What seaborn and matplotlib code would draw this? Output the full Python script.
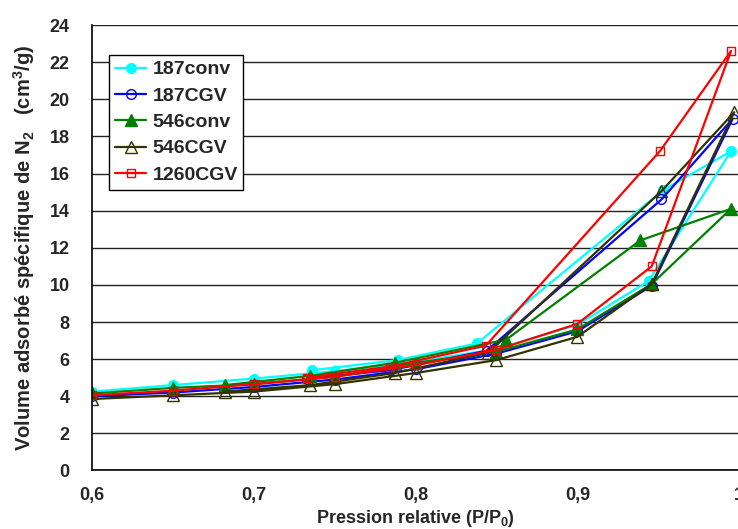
import matplotlib
matplotlib.use("Agg")
import matplotlib.pyplot as plt
import seaborn as sns

# relative pressure (P/P0) and adsorbed volume (cm3/g), adsorption then desorption
x_187conv = [0.60, 0.65, 0.70, 0.75, 0.80, 0.85, 0.90, 0.944, 0.995, 0.953, 0.838, 0.789, 0.736]
y_187conv = [4.25, 4.6, 4.95, 5.35, 5.85, 6.55, 7.85, 10.2, 17.2, 15.1, 6.85, 5.95, 5.4]

x_187cgv = [0.60, 0.65, 0.70, 0.75, 0.80, 0.85, 0.90, 0.946, 0.996, 0.952, 0.844, 0.784, 0.733]
y_187cgv = [4.0, 4.2, 4.5, 4.9, 5.45, 6.3, 7.5, 9.95, 18.95, 14.6, 6.45, 5.4, 4.95]

x_546conv = [0.60, 0.65, 0.70, 0.75, 0.80, 0.85, 0.90, 0.946, 0.995, 0.939, 0.856, 0.787, 0.735, 0.682]
y_546conv = [4.15, 4.45, 4.65, 5.05, 5.8, 6.4, 7.6, 10.05, 14.1, 12.4, 7.05, 5.8, 5.1, 4.6]

x_546cgv = [0.60, 0.65, 0.70, 0.75, 0.80, 0.85, 0.90, 0.946, 0.997, 0.952, 0.845, 0.787, 0.735, 0.682]
y_546cgv = [3.85, 4.05, 4.25, 4.65, 5.25, 5.95, 7.2, 10.05, 19.3, 15.05, 6.35, 5.25, 4.6, 4.25]

x_1260cgv = [0.60, 0.65, 0.70, 0.75, 0.80, 0.85, 0.90, 0.946, 0.995, 0.951, 0.8435, 0.784, 0.733]
y_1260cgv = [4.05, 4.3, 4.65, 5.05, 5.68, 6.5, 7.9, 11.0, 22.6, 17.2, 6.73, 5.6, 5.0]

x_ticks = [0.6, 0.7, 0.8, 0.9, 1.0]
x_tick_labels = ["0,6", "0,7", "0,8", "0,9", "1"]
y_ticks = list(range(0, 26, 2))

sns.set_style("white")
plt.rcParams["font.family"] = ["Liberation Sans", "DejaVu Sans"]
plt.rcParams["mathtext.default"] = "regular"

fig = plt.figure(figsize=(7.38, 5.29), dpi=100)
ax = fig.add_axes([0.1247, 0.1106, 0.8768, 0.8421])

series = [
    ("187conv", x_187conv, y_187conv, "#00FFFF", "o", "#00FFFF", 7),
    ("187CGV", x_187cgv, y_187cgv, "#0000FF", "o", "none", 7),
    ("546conv", x_546conv, y_546conv, "#008000", "^", "#008000", 8),
    ("546CGV", x_546cgv, y_546cgv, "#333300", "^", "none", 8),
    ("1260CGV", x_1260cgv, y_1260cgv, "#FF0000", "s", "none", 6),
]

for name, xs, ys, col, mk, fc, ms in series:
    sns.lineplot(x=xs, y=ys, sort=False, estimator=None, ax=ax, color=col,
                 lw=1.6, marker=mk, markersize=ms, mfc=fc, mec=col, mew=1.0,
                 label=name)

narrow = ["Liberation Sans Narrow", "Liberation Sans"]

ax.set_xlim(0.6, 1.0)
ax.set_ylim(0, 24)
ax.set_xticks(x_ticks)
ax.set_xticklabels(x_tick_labels, fontsize=13, fontweight="bold", family=narrow)
ax.set_yticks(y_ticks[:13])
ax.set_yticklabels([str(v) for v in y_ticks[:13]], fontsize=13, fontweight="bold")
ax.tick_params(axis="x", direction="out", length=5, width=1, pad=7, color="black")
ax.tick_params(axis="y", direction="out", length=5, width=1, pad=11, color="black")

ax.yaxis.grid(True, color="#222222", lw=1.0)
ax.xaxis.grid(False)
ax.set_axisbelow(True)
for side in ["top", "right"]:
    ax.spines[side].set_visible(False)
for side in ["left", "bottom"]:
    ax.spines[side].set_color("black")
    ax.spines[side].set_linewidth(1.2)

ax.set_xlabel("Pression relative (P/P$_0$)", fontsize=13, fontweight="bold",
              family=narrow, labelpad=3)
ax.set_ylabel("Volume adsorbé spécifique de N$_2$   (cm$^3$/g)", fontsize=14.5,
              fontweight="bold", labelpad=9)

leg = ax.legend(loc="upper left", bbox_to_anchor=(0.027, 0.933), borderaxespad=0,
                frameon=True, fancybox=False, framealpha=1, edgecolor="black",
                prop={"weight": "bold", "size": 14}, handlelength=1.6,
                labelspacing=0.45, borderpad=0.3, handletextpad=0.3)
leg.get_frame().set_linewidth(1.0)

fig.savefig("out.png", dpi=100)
